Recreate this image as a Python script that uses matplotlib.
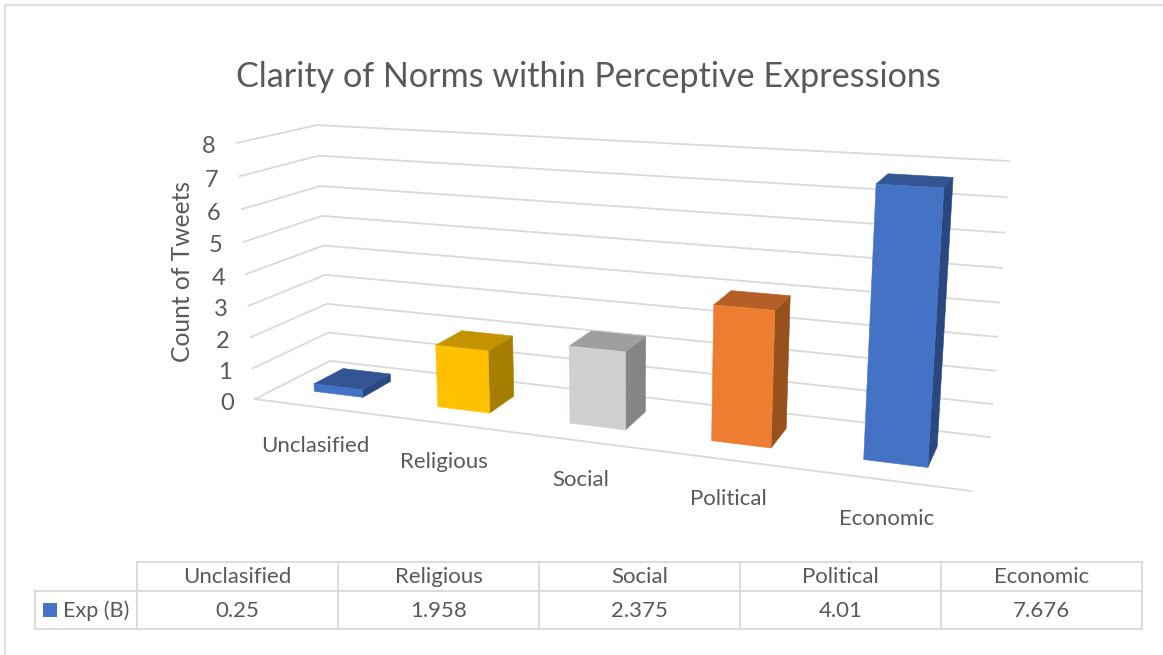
import numpy as np
import matplotlib
matplotlib.use('Agg')
from matplotlib import pyplot as plt
from matplotlib.patches import Polygon, Rectangle

categories = ['Unclasified', 'Religious', 'Social', 'Political', 'Economic']
values = [0.25, 1.958, 2.375, 4.01, 7.676]
series_name = 'Exp (B)'
y_ticks = [0, 1, 2, 3, 4, 5, 6, 7, 8]

front_colors = ['#4472C4', '#FFC000', '#D0CED0', '#ED7D31', '#4472C4']
top_colors = ['#335593', '#C49400', '#9E9E9E', '#B55E25', '#335593']
side_colors = ['#2A4880', '#A67F00', '#858585', '#97511C', '#2A4880']

GREY = '#595959'
LINE = '#D9D9D9'
BAR_W = 0.4
D0, D1 = 0.3, 0.7

plt.rcParams['font.family'] = ['Lato', 'DejaVu Sans']

# box corners (x fraction, depth, value) seen on the picture, used to fit a camera
box = np.array([[0, 0, 0], [1, 0, 0], [0, 1, 0], [1, 1, 0],
                [0, 0, 8], [0, 1, 8], [1, 1, 8]], dtype=float)
pix = np.array([[255, 399], [971, 491], [330, 361], [990, 437],
                [237, 143], [317, 125], [1009, 161]], dtype=float)

rows, rhs = [], []
for (X, Y, Z), (u, v) in zip(box, pix):
    rows.append([X, Y, Z, 1, 0, 0, 0, 0, -u*X, -u*Y, -u*Z])
    rows.append([0, 0, 0, 0, X, Y, Z, 1, -v*X, -v*Y, -v*Z])
    rhs += [u, v]
cam = np.append(np.linalg.lstsq(np.array(rows), np.array(rhs), rcond=None)[0], 1).reshape(3, 4)


def project(x, d, v):
    p = cam @ np.array([x, d, v, 1.0])
    return p[0]/p[2], p[1]/p[2]


fig = plt.figure(figsize=(11.63, 6.55), dpi=100)
ax = fig.add_axes([0, 0, 1, 1])
ax.set_xlim(0, 1163)
ax.set_ylim(655, 0)
ax.axis('off')

# chart frame
ax.plot([5, 5, 1163], [655, 5, 5], color=LINE, lw=1.2)

ax.text(588, 77, 'Clarity of Norms within Perceptive Expressions', fontsize=24.6,
        color=GREY, ha='center', va='center')

# gridlines on the side and back walls
for t in y_ticks:
    pts = [project(0, 0, t), project(0, 1, t), project(1, 1, t)]
    ax.plot(*zip(*pts), color=LINE, lw=1.3, solid_joinstyle='miter', zorder=1)
    x0, y0 = project(0, 0, t)
    ax.text(x0-28, y0+4, str(t), fontsize=17, color=GREY, ha='center', va='center')
ax.plot(*zip(project(0, 0, 0), project(1, 0, 0)), color=LINE, lw=1.3, zorder=1)

ax.text(182, 272, 'Count of Tweets', fontsize=17.7, color=GREY, rotation=90,
        ha='center', va='center')

# bars, left to right
for i, val in enumerate(values):
    x0 = (i + 0.5 - BAR_W/2)/len(values)
    x1 = (i + 0.5 + BAR_W/2)/len(values)
    front = [project(x0, D0, 0), project(x1, D0, 0), project(x1, D0, val), project(x0, D0, val)]
    side = [project(x1, D0, 0), project(x1, D1, 0), project(x1, D1, val), project(x1, D0, val)]
    top = [project(x0, D0, val), project(x1, D0, val), project(x1, D1, val), project(x0, D1, val)]
    for face, col in ((side, side_colors[i]), (top, top_colors[i]), (front, front_colors[i])):
        ax.add_patch(Polygon(face, closed=True, facecolor=col, edgecolor=col, lw=0.4, zorder=2))

    lx, ly = project((i + 0.5)/len(values), 0, 0)
    ax.text(lx, ly+39, categories[i], fontsize=16, color=GREY, ha='center', va='center')

# data table under the plot
cols = np.linspace(137, 1142, len(categories)+1)
ax.plot([137, 1142], [562, 562], color=LINE, lw=1.3)
ax.plot([35, 1142], [591, 591], color=LINE, lw=1.3)
ax.plot([35, 1142], [629, 629], color=LINE, lw=1.3)
ax.plot([35, 35], [591, 629], color=LINE, lw=1.3)
for cx in cols:
    ax.plot([cx, cx], [562, 629], color=LINE, lw=1.3)
for i in range(len(categories)):
    mid = (cols[i] + cols[i+1])/2
    ax.text(mid, 577, categories[i], fontsize=16, color=GREY, ha='center', va='center')
    ax.text(mid, 611, str(values[i]), fontsize=16, color=GREY, ha='center', va='center')
ax.add_patch(Rectangle((43, 603), 14, 14, facecolor='#4472C4', edgecolor='none'))
ax.text(63, 611, series_name, fontsize=15.6, color=GREY, ha='left', va='center')

fig.savefig('out.png', dpi=100)
